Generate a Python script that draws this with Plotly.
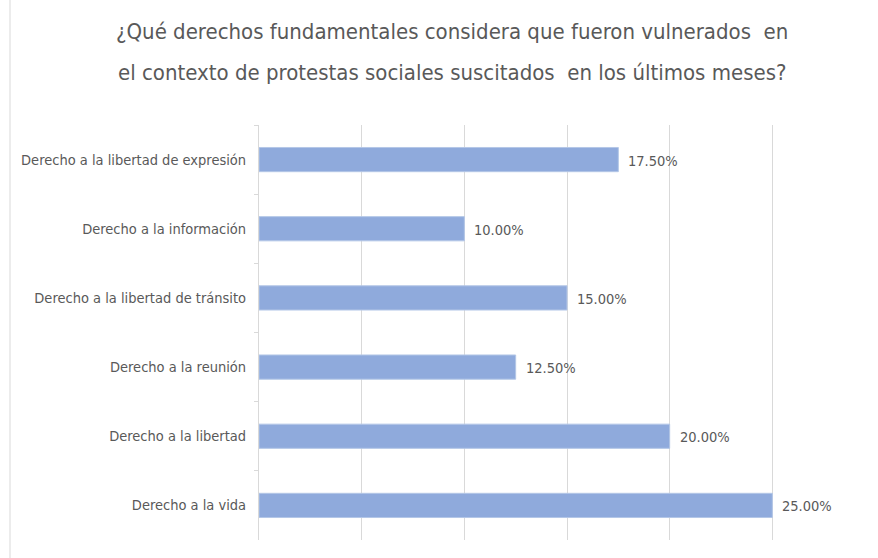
import plotly.graph_objects as go

categories = [
    "Derecho a la libertad de expresión",
    "Derecho a la información",
    "Derecho a la libertad de tránsito",
    "Derecho a la reunión",
    "Derecho a la libertad",
    "Derecho a la vida",
]
values = [17.5, 10.0, 15.0, 12.5, 20.0, 25.0]
x_ticks = [0, 5, 10, 15, 20, 25, 30]
title_lines = [
    "¿Qué derechos fundamentales considera que fueron vulnerados  en",
    "el contexto de protestas sociales suscitados  en los últimos meses?",
]

FONT = "Liberation Sans Narrow, DejaVu Sans Condensed, Arial Narrow, sans-serif"
GRAY = "#595959"

W, H = 878, 558
L, R, T, B = 259, 3, 125, 18
PW, PH = W - L - R, H - T - B


def px_to_paper_x(px):
    return (px - L) / PW


def px_to_paper_y(py):
    return (H - B - py) / PH


fig = go.Figure()
fig.add_trace(go.Bar(
    x=values, y=categories, orientation="h",
    marker=dict(color="#8faadc", line=dict(color="#b4c7e7", width=1)),
    width=0.35,
    hoverinfo="skip",
))

for v, c in zip(values, categories):
    fig.add_annotation(x=v, y=c, text=f"{v:.2f}%", showarrow=False,
                       xanchor="left", xshift=8, yshift=-1,
                       font=dict(family=FONT, size=14.5, color=GRAY))

for line, ypx in zip(title_lines, [32, 73]):
    fig.add_annotation(xref="paper", yref="paper",
                       x=px_to_paper_x(452), y=px_to_paper_y(ypx),
                       xanchor="center", yanchor="middle",
                       text=line, showarrow=False,
                       font=dict(family=FONT, size=22, color=GRAY))

fig.update_layout(
    width=W, height=H,
    margin=dict(l=L, r=R, t=T, b=B),
    paper_bgcolor="white", plot_bgcolor="white",
    showlegend=False,
    xaxis=dict(range=[0, 30], tickvals=x_ticks, showticklabels=False,
               showgrid=True, gridcolor="#d9d9d9", gridwidth=1,
               zeroline=False, showline=False, fixedrange=True,
               automargin=False),
    yaxis=dict(autorange="reversed", showgrid=False, zeroline=False,
               showline=True, linecolor="#d9d9d9", linewidth=1,
               ticks="outside", tickson="boundaries", ticklen=4,
               tickcolor="#d9d9d9", ticklabelstandoff=9, automargin=False,
               tickfont=dict(family=FONT, size=14.5, color=GRAY)),
    bargap=0.65,
    shapes=[dict(type="line", xref="paper", yref="paper",
                 x0=px_to_paper_x(10), x1=px_to_paper_x(10),
                 y0=px_to_paper_y(H), y1=px_to_paper_y(0),
                 line=dict(color="#d9d9d9", width=1))],
)

fig.write_html("out.html", config={"displayModeBar": False},
               post_script="document.body.style.margin='0px';")
